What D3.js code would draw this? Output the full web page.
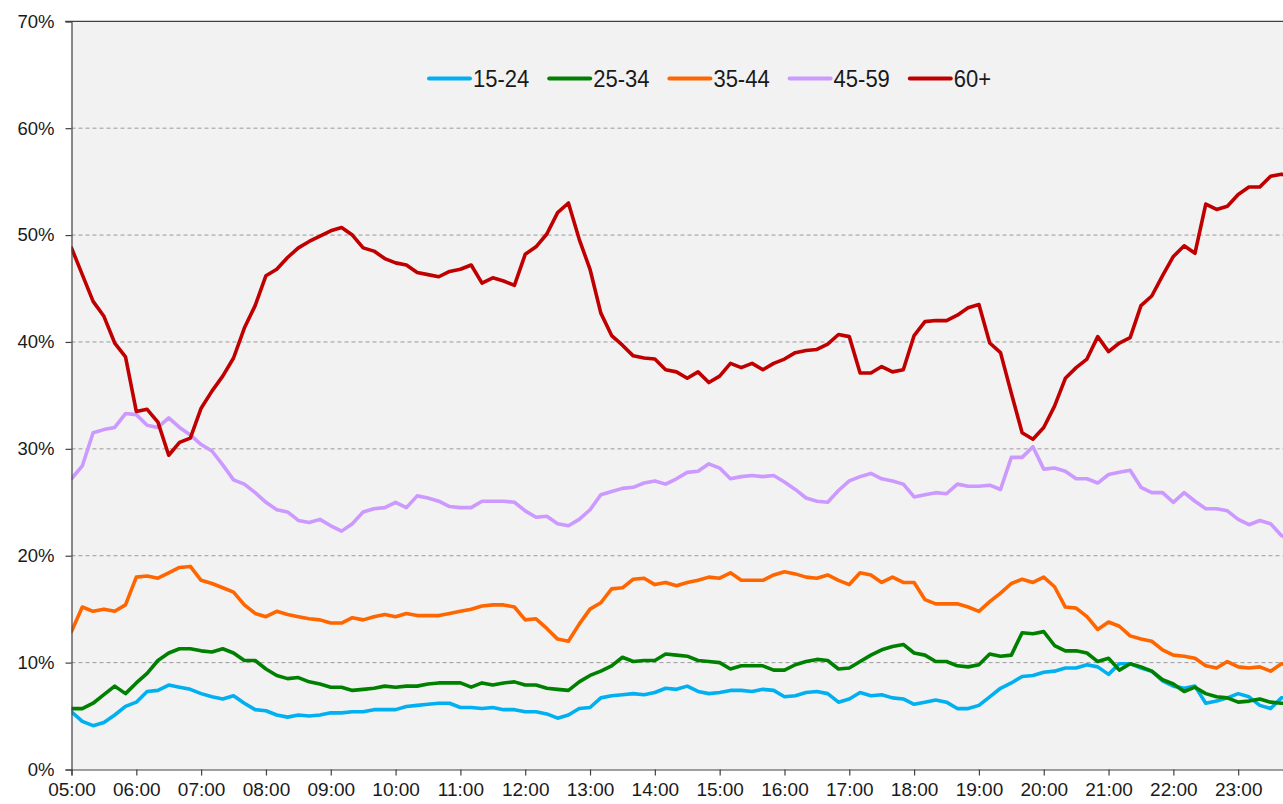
<!DOCTYPE html>
<html>
<head>
<meta charset="utf-8">
<script src="https://cdn.jsdelivr.net/npm/d3@7"></script>
<style>
  body { margin: 0; background: #fff; }
  svg { display: block; font-family: "Liberation Sans", Arial, sans-serif; }
</style>
</head>
<body>
<div id="chart"></div>
<script>
// time axis: 05:00 to 23:50, one sample every 10 minutes
const startTime = "05:00"
const stepMinutes = 10
const hourTicks = ["05:00", "06:00", "07:00", "08:00", "09:00", "10:00", "11:00", "12:00", "13:00", "14:00",
  "15:00", "16:00", "17:00", "18:00", "19:00", "20:00", "21:00", "22:00", "23:00"]
const yTicks = [0, 0.1, 0.2, 0.3, 0.4, 0.5, 0.6, 0.7]

const ageGroups = ["15-24", "25-34", "35-44", "45-59", "60+"]
const colors = ["#00b0f0", "#008000", "#ff6600", "#cc99ff", "#c00000"]

// share of viewers (%) per age group
const v15_24 = [5.4, 4.5, 4.1, 4.4, 5.1, 5.9, 6.3, 7.3, 7.4, 7.9, 7.7, 7.5, 7.1, 6.8, 6.6, 6.9, 6.2, 5.6,
  5.5, 5.1, 4.9, 5.1, 5.0, 5.1, 5.3, 5.3, 5.4, 5.4, 5.6, 5.6, 5.6, 5.9, 6.0, 6.1, 6.2, 6.2,
  5.8, 5.8, 5.7, 5.8, 5.6, 5.6, 5.4, 5.4, 5.2, 4.8, 5.1, 5.7, 5.8, 6.7, 6.9, 7.0, 7.1, 7.0,
  7.2, 7.6, 7.5, 7.8, 7.3, 7.1, 7.2, 7.4, 7.4, 7.3, 7.5, 7.4, 6.8, 6.9, 7.2, 7.3, 7.1, 6.3,
  6.6, 7.2, 6.9, 7.0, 6.7, 6.6, 6.1, 6.3, 6.5, 6.3, 5.7, 5.7, 6.0, 6.8, 7.6, 8.1, 8.7, 8.8,
  9.1, 9.2, 9.5, 9.5, 9.8, 9.6, 8.9, 9.9, 9.9, 9.5, 9.2, 8.3, 7.8, 7.6, 7.8, 6.2, 6.4, 6.7,
  7.1, 6.8, 6.0, 5.7, 6.7, 6.8]
const v25_34 = [5.7, 5.7, 6.2, 7.0, 7.8, 7.1, 8.1, 9.0, 10.2, 10.9, 11.3, 11.3, 11.1, 11.0, 11.3, 10.9, 10.2, 10.2,
  9.4, 8.8, 8.5, 8.6, 8.2, 8.0, 7.7, 7.7, 7.4, 7.5, 7.6, 7.8, 7.7, 7.8, 7.8, 8.0, 8.1, 8.1,
  8.1, 7.7, 8.1, 7.9, 8.1, 8.2, 7.9, 7.9, 7.6, 7.5, 7.4, 8.2, 8.8, 9.2, 9.7, 10.5, 10.1, 10.2,
  10.2, 10.8, 10.7, 10.6, 10.2, 10.1, 10.0, 9.4, 9.7, 9.7, 9.7, 9.3, 9.3, 9.8, 10.1, 10.3, 10.2, 9.4,
  9.5, 10.1, 10.7, 11.2, 11.5, 11.7, 10.9, 10.7, 10.1, 10.1, 9.7, 9.6, 9.8, 10.8, 10.6, 10.7, 12.8, 12.7,
  12.9, 11.6, 11.1, 11.1, 10.9, 10.1, 10.4, 9.3, 9.9, 9.6, 9.2, 8.4, 8.0, 7.3, 7.7, 7.1, 6.8, 6.7,
  6.3, 6.4, 6.6, 6.3, 6.2, 6.2]
const v35_44 = [12.9, 15.2, 14.8, 15.0, 14.8, 15.4, 18.0, 18.1, 17.9, 18.4, 18.9, 19.0, 17.7, 17.4, 17.0, 16.6, 15.4, 14.6,
  14.3, 14.8, 14.5, 14.3, 14.1, 14.0, 13.7, 13.7, 14.2, 14.0, 14.3, 14.5, 14.3, 14.6, 14.4, 14.4, 14.4, 14.6,
  14.8, 15.0, 15.3, 15.4, 15.4, 15.2, 14.0, 14.1, 13.2, 12.2, 12.0, 13.6, 15.0, 15.6, 16.9, 17.0, 17.8, 17.9,
  17.3, 17.5, 17.2, 17.5, 17.7, 18.0, 17.9, 18.4, 17.7, 17.7, 17.7, 18.2, 18.5, 18.3, 18.0, 17.9, 18.2, 17.7,
  17.3, 18.4, 18.2, 17.5, 18.0, 17.5, 17.5, 15.9, 15.5, 15.5, 15.5, 15.2, 14.8, 15.7, 16.5, 17.4, 17.8, 17.5,
  18.0, 17.1, 15.2, 15.1, 14.3, 13.1, 13.8, 13.4, 12.5, 12.2, 12.0, 11.2, 10.7, 10.6, 10.4, 9.7, 9.5, 10.1,
  9.6, 9.5, 9.6, 9.2, 9.9, 9.8]
const v45_59 = [27.2, 28.4, 31.5, 31.8, 32.0, 33.3, 33.2, 32.2, 32.0, 32.9, 32.0, 31.3, 30.4, 29.8, 28.5, 27.1, 26.7, 25.9,
  25.0, 24.3, 24.1, 23.3, 23.1, 23.4, 22.8, 22.3, 23.0, 24.1, 24.4, 24.5, 25.0, 24.5, 25.6, 25.4, 25.1, 24.6,
  24.5, 24.5, 25.1, 25.1, 25.1, 25.0, 24.2, 23.6, 23.7, 23.0, 22.8, 23.4, 24.3, 25.7, 26.0, 26.3, 26.4, 26.8,
  27.0, 26.7, 27.2, 27.8, 27.9, 28.6, 28.2, 27.2, 27.4, 27.5, 27.4, 27.5, 26.9, 26.2, 25.4, 25.1, 25.0, 26.1,
  27.0, 27.4, 27.7, 27.2, 27.0, 26.7, 25.5, 25.7, 25.9, 25.8, 26.7, 26.5, 26.5, 26.6, 26.2, 29.2, 29.2, 30.2,
  28.1, 28.2, 27.9, 27.2, 27.2, 26.8, 27.6, 27.8, 28.0, 26.4, 25.9, 25.9, 25.0, 25.9, 25.1, 24.4, 24.4, 24.2,
  23.4, 22.9, 23.3, 23.0, 21.9, 21.4]
const v60plus = [48.8, 46.3, 43.8, 42.4, 39.9, 38.6, 33.5, 33.7, 32.5, 29.4, 30.6, 31.0, 33.8, 35.4, 36.8, 38.5, 41.3, 43.4,
  46.2, 46.8, 47.9, 48.8, 49.4, 49.9, 50.4, 50.7, 50.0, 48.8, 48.5, 47.8, 47.4, 47.2, 46.5, 46.3, 46.1, 46.6,
  46.8, 47.2, 45.5, 46.0, 45.7, 45.3, 48.2, 48.9, 50.1, 52.1, 53.0, 49.6, 46.8, 42.7, 40.6, 39.7, 38.7, 38.5,
  38.4, 37.4, 37.2, 36.6, 37.2, 36.2, 36.8, 38.0, 37.6, 38.0, 37.4, 38.0, 38.4, 39.0, 39.2, 39.3, 39.8, 40.7,
  40.5, 37.1, 37.1, 37.7, 37.2, 37.4, 40.6, 41.9, 42.0, 42.0, 42.5, 43.2, 43.5, 39.9, 39.0, 35.2, 31.5, 30.9,
  32.0, 34.0, 36.6, 37.6, 38.4, 40.5, 39.1, 39.9, 40.4, 43.4, 44.3, 46.2, 48.0, 49.0, 48.3, 52.9, 52.4, 52.7,
  53.8, 54.5, 54.5, 55.5, 55.7, 55.4]

const seriesValues = [v15_24, v25_34, v35_44, v45_59, v60plus]

const width = 1283,
  height = 804
const plotLeft = 71.5,
  plotTop = 21.3,
  plotBottom = 769.5,
  plotRight = 1303

const toMin = (s) => {
  const [h, m] = s.split(":").map(Number)
  return h * 60 + m
}
const t0 = toMin(startTime)

const x = d3.scaleLinear().domain([0, 19 * 60]).range([plotLeft, plotRight])
const y = d3.scaleLinear().domain([0, 0.7]).range([plotBottom, plotTop])

const svg = d3.select("#chart").append("svg").attr("width", width).attr("height", height)

svg.append("clipPath").attr("id", "clip")
  .append("rect").attr("x", plotLeft).attr("y", plotTop - 5)
  .attr("width", plotRight - plotLeft).attr("height", plotBottom - plotTop + 5)

// plot area
svg.append("rect")
  .attr("x", plotLeft).attr("y", plotTop)
  .attr("width", plotRight - plotLeft).attr("height", plotBottom - plotTop)
  .attr("fill", "#f2f2f2")

// dashed gridlines
svg.append("g")
  .selectAll("line")
  .data(yTicks.filter((d) => d > 0 && d < 0.7))
  .enter()
  .append("line")
  .attr("x1", plotLeft).attr("x2", plotRight)
  .attr("y1", (d) => y(d)).attr("y2", (d) => y(d))
  .attr("stroke", "#9a9a9a")
  .attr("stroke-width", 1)
  .attr("stroke-dasharray", "4,3")

// top border
svg.append("line")
  .attr("x1", plotLeft - 6).attr("x2", plotRight)
  .attr("y1", y(0.7)).attr("y2", y(0.7))
  .attr("stroke", "#404040").attr("stroke-width", 1.2)

// lines
const line = d3.line()
  .x((d, i) => x(i * stepMinutes))
  .y((d) => y(d / 100))

svg.append("g")
  .attr("clip-path", "url(#clip)")
  .selectAll("path")
  .data(seriesValues)
  .enter()
  .append("path")
  .attr("d", (d) => line(d))
  .attr("fill", "none")
  .attr("stroke", (d, i) => colors[i])
  .attr("stroke-width", 3.6)
  .attr("stroke-linejoin", "round")
  .attr("stroke-linecap", "round")

// y axis
const yAxis = d3.axisLeft(y)
  .tickValues(yTicks)
  .tickFormat(d3.format(".0%"))
  .tickSize(6)
  .tickPadding(11)
const gy = svg.append("g").attr("transform", `translate(${plotLeft},0)`).call(yAxis)
gy.select(".domain").attr("stroke", "#404040").attr("stroke-width", 1.2)
gy.selectAll(".tick line").attr("stroke", "#404040").attr("stroke-width", 1.2)
gy.selectAll(".tick text").attr("font-size", 18.5).attr("fill", "#1a1a1a").attr("font-family", "Liberation Sans, Arial, sans-serif")

// x axis
const xAxis = d3.axisBottom(x)
  .tickValues(hourTicks.map((s) => toMin(s) - t0))
  .tickFormat((d) => hourTicks[d / 60])
  .tickSize(6)
  .tickPadding(7)
const gx = svg.append("g").attr("transform", `translate(0,${plotBottom})`).call(xAxis)
gx.select(".domain").attr("stroke", "#404040").attr("stroke-width", 1.2)
gx.selectAll(".tick line").attr("stroke", "#404040").attr("stroke-width", 1.2)
gx.selectAll(".tick text").attr("font-size", 19).attr("fill", "#1a1a1a").attr("font-family", "Liberation Sans, Arial, sans-serif")

// legend
const legend = svg.append("g")
  .selectAll("g")
  .data(ageGroups)
  .enter()
  .append("g")
  .attr("transform", (d, i) => `translate(${429 + i * 120.2},78.5)`)

legend.append("line")
  .attr("x1", 0).attr("x2", 41)
  .attr("stroke", (d, i) => colors[i])
  .attr("stroke-width", 4)
  .attr("stroke-linecap", "round")

legend.append("text")
  .attr("transform", "translate(44,8) scale(1,1.06)")
  .attr("font-size", 22)
  .attr("fill", "#1a1a1a")
  .text((d) => d)
</script>
</body>
</html>
